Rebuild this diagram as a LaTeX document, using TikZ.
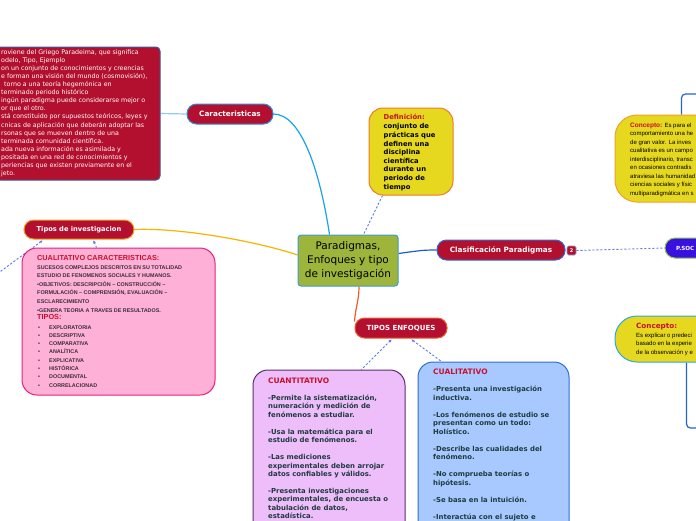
\documentclass[tikz,border=0pt]{standalone}
\usepackage{fontspec}
\setmainfont{DejaVu Sans}
\newfontfamily\arialf{Liberation Sans}
\usetikzlibrary{backgrounds,arrows.meta}
\definecolor{nodered}{HTML}{B30F2F}
\definecolor{headred}{HTML}{C8102E}
\definecolor{redboxline}{HTML}{3B5D9B}
\definecolor{caracblue}{HTML}{2C8FE0}
\definecolor{clasifblue}{HTML}{2F6ACF}
\definecolor{tiposorange}{HTML}{F0A020}
\definecolor{tenfline}{HTML}{F05A30}
\definecolor{defyellow}{HTML}{E6D81E}
\definecolor{deforange}{HTML}{F07A2A}
\definecolor{c1orange}{HTML}{F0A030}
\definecolor{c2blue}{HTML}{2AA8E0}
\definecolor{centgreen}{HTML}{9CB53A}
\definecolor{centblue}{HTML}{3D9BD6}
\definecolor{pinkfill}{HTML}{FFB0D6}
\definecolor{pinkline}{HTML}{E8207C}
\definecolor{violetfill}{HTML}{EEBEFA}
\definecolor{violetline}{HTML}{5C2E6C}
\definecolor{bluefill}{HTML}{A8C9FF}
\definecolor{blueline}{HTML}{2E6ED8}
\definecolor{psocfill}{HTML}{3810E0}
\definecolor{psocline}{HTML}{8CC83C}
\definecolor{badgeline}{HTML}{8A9AD0}
\definecolor{texteal}{HTML}{1E3B3F}
\definecolor{pinktext}{HTML}{3A2E36}
\definecolor{dashblue}{HTML}{5A78EE}
\definecolor{cyanlink}{HTML}{1AA3E8}
\definecolor{lightcyan}{HTML}{8FCDEE}
\definecolor{orangelink}{HTML}{F7B500}
\definecolor{redlink}{HTML}{F05A24}
\definecolor{navylink}{HTML}{1A5FC8}
\definecolor{bracketblue}{HTML}{2563D4}
\tikzset{
  topic/.style={rectangle, rounded corners=9.5pt, fill=nodered, line width=1pt, text=white, font=\fontsize{7.3}{9}\selectfont\bfseries, inner sep=0pt, minimum height=20pt},
  panel/.style={rectangle, inner sep=0pt, line width=1pt},
  txt/.style={anchor=north west, inner sep=0pt, align=left},
  dashlink/.style={draw=dashblue, line width=0.9pt, dash pattern=on 2.2pt off 1.8pt},
  link/.style={line width=1.2pt},
  tip/.style={{Stealth[length=3pt,width=3pt]}-}
}
\begin{document}
\begin{tikzpicture}[x=1pt,y=-1pt]
\useasboundingbox (0,0) rectangle (696,520);
\clip (0,0) rectangle (696,520);

% ---- top-left definition box
\node[panel, fill=nodered, draw=redboxline, rounded corners=4pt, minimum width=180pt, minimum height=133pt] (redbox) at (70,113.5) {};
\node[txt, text=white, font=\fontsize{6.3}{8.07}\selectfont] (redtxt) at (1,49.4) {roviene del Griego Paradeima, que significa\\
odelo, Tipo, Ejemplo\\
on un conjunto de conocimientos y creencias\\
e forman una visión del mundo (cosmovisión),\\
\hspace{3pt}torno a una teoría hegemónica en\\
terminado periodo histórico\\
ingún paradigma puede considerarse mejor o\\
or que el otro.\\
stá constituido por supuestos teóricos, leyes y\\
cnicas de aplicación que deberán adoptar las\\
rsonas que se mueven dentro de una\\
terminada comunidad científica.\\
ada nueva información es asimilada y\\
positada en una red de conocimientos y\\
periencias que existen previamente en el\\
jeto.};

\node[topic, draw=caracblue, minimum width=86pt] (carac) at (230,114) {Caracteristicas};

% ---- Definicion
\node[panel, fill=defyellow, draw=deforange, rounded corners=14pt, minimum width=84pt, minimum height=87pt] (defn) at (411,151.5) {};
\node[txt, font=\fontsize{6.8}{8.6}\selectfont\bfseries] (defntxt) at (383.5,114.3) {\textcolor{headred}{Definición:}\\[0.4pt]
conjunto de\\ prácticas que\\ definen una\\ disciplina\\ científica\\ durante un\\ periodo de\\ tiempo};

% ---- central
\node[panel, fill=centgreen, draw=centblue, rounded corners=3pt, minimum width=100pt, minimum height=51pt, align=center, font=\fontsize{10.5}{14}\selectfont] (central) at (348,260.5) {Paradigmas,\\ Enfoques y tipo\\ de investigación};

% ---- clasificacion
\node[topic, draw=clasifblue, minimum width=128pt] (clasif) at (501,250) {Clasificación Paradigmas};
\node[panel, fill=nodered, draw=badgeline, line width=0.6pt, rounded corners=1.5pt, minimum size=9pt, text=white, font=\fontsize{5}{5}\selectfont\bfseries] (badge) at (571.5,250.5) {2};
\node[panel, fill=psocfill, draw=psocline, rounded corners=10pt, minimum width=95pt, minimum height=20pt] (psoc) at (712.5,248) {};
\node[txt, anchor=west, text=white, font=\fontsize{5.6}{9}\selectfont\bfseries] (psoctxt) at (676,248) {P.SOC};

% ---- right concept boxes
\node[panel, fill=defyellow, draw=c1orange, rounded corners=22pt, minimum width=150pt, minimum height=87pt] (c1) at (690,158.5) {};
\node[txt, font=\arialf\fontsize{6}{8.5}\selectfont] (c1txt) at (630,122.6) {{\fontsize{6.5}{8.5}\selectfont\bfseries\color{headred}Concepto:} Es para  el\\
comportamiento una he\\
de gran valor.  La inves\\
cualitativa es un campo\\
interdisciplinario, transc\\
en ocasiones contradis\\
atraviesa las humanidad\\
ciencias sociales y físic\\
multiparadigmática en s};

\node[panel, fill=defyellow, draw=c2blue, rounded corners=22pt, minimum width=150pt, minimum height=46pt] (c2) at (690,339) {};
\node[txt, font=\arialf\fontsize{6}{8.5}\selectfont] (c2txt) at (636,323.3) {{\normalfont\fontsize{7.2}{8.5}\selectfont\bfseries\color{headred}Concepto:}\\
Es explicar o predeci\\
basado en la experie\\
de la observación y e};

% ---- tipos de investigacion
\node[topic, draw=tiposorange, minimum width=110pt, minimum height=19pt, font=\fontsize{6.7}{9}\selectfont\bfseries] (tipos) at (79,229.5) {Tipos de investigacion};
\node[panel, fill=pinkfill, draw=pinkline, rounded corners=15pt, minimum width=193pt, minimum height=147pt] (pink) at (118.5,321.5) {};
\node[txt, text=headred, font=\arialf\fontsize{7.3}{9}\selectfont\bfseries] (pinktitle) at (37,255.4) {CUALITATIVO CARACTERISTICAS:};
\node[txt, text=pinktext, font=\arialf\fontsize{5.4}{8.6}\selectfont\bfseries] (pinkbody) at (37,265.1) {SUCESOS COMPLEJOS DESCRITOS EN SU TOTALIDAD\\
ESTUDIO DE FENOMENOS SOCIALES Y HUMANOS.\\
•OBJETIVOS: DESCRIPCIÓN – CONSTRUCCIÓN –\\
FORMULACIÓN – COMPRENSIÓN, EVALUACIÓN –\\
ESCLARECIMIENTO\\
•GENERA TEORIA A TRAVES DE RESULTADOS.};
\node[txt, text=headred, font=\arialf\fontsize{7.3}{9}\selectfont\bfseries] (pinktipos) at (37,314.4) {TIPOS:};
\node[txt, text=pinktext, font=\arialf\fontsize{5.4}{8.29}\selectfont\bfseries] (pinklist) at (38,325.1) {\makebox[11pt][l]{•}EXPLORATORIA\\
\makebox[11pt][l]{•}DESCRIPTIVA\\
\makebox[11pt][l]{•}COMPARATIVA\\
\makebox[11pt][l]{•}ANALÍTICA\\
\makebox[11pt][l]{•}EXPLICATIVA\\
\makebox[11pt][l]{•}HISTÓRICA\\
\makebox[11pt][l]{•}DOCUMENTAL\\
\makebox[11pt][l]{•}CORRELACIONAD};

% ---- tipos enfoques
\node[topic, draw=tenfline, minimum width=92pt, font=\fontsize{7}{9}\selectfont\bfseries] (tenf) at (401,328) {TIPOS ENFOQUES};

\node[panel, fill=violetfill, draw=violetline, rounded corners=15pt, minimum width=152pt, minimum height=200pt] (cuant) at (329,470) {};
\node[txt, text=texteal, font=\fontsize{6.9}{8.45}\selectfont\bfseries] (cuanttxt) at (268,377.8) {{\fontsize{7.5}{8.45}\selectfont\color{headred}CUANTITATIVO}\\[8.45pt]
-Permite la sistematización,\\
numeración y medición de\\
fenómenos a estudiar.\\[8.45pt]
-Usa la matemática para el\\
estudio de fenómenos.\\[8.45pt]
-Las mediciones\\
experimentales deben arrojar\\
datos confiables y válidos.\\[8.45pt]
-Presenta investigaciones\\
experimentales, de encuesta o\\
tabulación de datos,\\
estadística.};

\node[panel, fill=bluefill, draw=blueline, rounded corners=15pt, minimum width=151pt, minimum height=208pt] (cual) at (493.5,466) {};
\node[txt, text=texteal, font=\fontsize{6.9}{8.5}\selectfont\bfseries] (cualtxt) at (433,369.2) {{\fontsize{7.5}{8.5}\selectfont\color{headred}CUALITATIVO}\\[8.5pt]
-Presenta una investigación\\
inductiva.\\[8.5pt]
-Los fenómenos de estudio se\\
presentan como un todo:\\
Holístico.\\[8.5pt]
-Describe  las cualidades del\\
fenómeno.\\[8.5pt]
-No comprueba teorías o\\
hipótesis.\\[8.5pt]
-Se basa en la intuición.\\[8.5pt]
-Interactúa con el sujeto e};

% ---- free ends
\coordinate (offL) at (-3,274);
\coordinate (offR1) at (700,94);
\coordinate (offR2) at (700,428);

% ---- connectors
\begin{scope}[on background layer]
\fill[white] (0,0) rectangle (696,520);
\draw[link, draw=lightcyan] (carac.west) -- (redbox.east);
\draw[link, draw=cyanlink] (carac.east) .. controls +(27,0) and +(-10,-66) .. ([xshift=32pt]central.north west);
\draw[dashlink] ([xshift=14pt]defn.south west) -- ([xshift=66pt]central.north west);
\draw[link, draw=navylink] ([yshift=7pt]central.east) .. controls +(22,-3) and +(-14,0) .. (clasif.west);
\draw[dashlink] (badge.east) -- (psoc.west);
\draw[link, draw=orangelink] (tipos.east) .. controls +(50,-2) and +(-35,-12) .. ([yshift=5.5pt]central.west);
\draw[dashlink, tip] ([xshift=19pt,yshift=-1pt]tipos.south west) -- (offL);
\draw[dashlink, tip] ([xshift=70pt,yshift=-1pt]tipos.south west) -- ([xshift=75pt]pink.north west);
\draw[link, draw=redlink] ([xshift=11pt]central.south) .. controls +(0,14) and +(1,-14) .. ([yshift=-4pt]tenf.north west);
\draw[dashlink, tip] ([xshift=37pt,yshift=-1pt]tenf.south west) -- ([xshift=109pt]cuant.north west);
\draw[dashlink, tip] ([xshift=57pt,yshift=-1pt]tenf.south west) -- ([xshift=24pt]cual.north west);
\draw[link, draw=bracketblue, rounded corners=4pt] ([xshift=67pt]c1.north west) |- (offR1);
\draw[link, draw=bracketblue, rounded corners=4pt] ([xshift=72pt]c2.south west) |- (offR2);
\end{scope}
\end{tikzpicture}
\end{document}
